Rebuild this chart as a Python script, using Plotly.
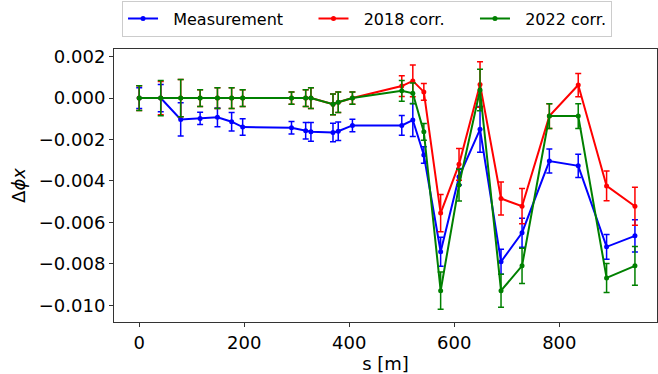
import plotly.graph_objects as go

s = [0, 41, 79, 116, 149, 176, 197, 290, 317, 327, 369, 379, 406, 500, 521, 542,
     574, 609, 649, 689, 729, 781, 836, 890, 944]

meas = [0.0, 0.0, -0.00103, -0.00098, -0.00093, -0.00114, -0.0014, -0.00143, -0.00158,
        -0.00163, -0.00166, -0.0016, -0.00132, -0.00132, -0.00106, -0.00275,
        -0.00742, -0.0038, -0.00151, -0.0079, -0.0065, -0.00304, -0.00327, -0.00718, -0.00665]
meas_err = [0.0005, 0.00066, 0.0008, 0.0003, 0.00045, 0.00045, 0.0004, 0.0003, 0.0004,
            0.00045, 0.00045, 0.00045, 0.0003, 0.00048, 0.0008, 0.0004,
            0.0007, 0.0004, 0.0011, 0.0006, 0.0007, 0.00058, 0.00056, 0.0006, 0.00078]

c2018 = [0.0, 0.0, 0.0, 0.0, 0.0, 0.0, 0.0, 0.0, 0.0, 0.0, -0.0003, -0.0002, 0.0,
         0.00058, 0.00083, 0.0003, -0.00555, -0.0032, 0.00066, -0.00485, -0.00522,
         -0.00087, 0.00063, -0.00424, -0.00522]
c2018_err = [0.0006, 0.0008, 0.0009, 0.0004, 0.0005, 0.0005, 0.0004, 0.0003, 0.0004,
             0.0005, 0.0005, 0.0005, 0.0003, 0.0005, 0.00077, 0.0004, 0.0009, 0.00077,
             0.0011, 0.0008, 0.00085, 0.0006, 0.00056, 0.00072, 0.00092]

c2022 = [0.0, 0.0, 0.0, 0.0, 0.0, 0.0, 0.0, 0.0, 0.0, 0.0, -0.0003, -0.0002, 0.0,
         0.00035, 0.00023, -0.00163, -0.0093, -0.0042, 0.00039, -0.0093, -0.0081,
         -0.00087, -0.00087, -0.00868, -0.0081]
c2022_err = [0.0006, 0.00085, 0.0009, 0.0004, 0.0005, 0.0005, 0.0004, 0.0003, 0.0004,
             0.0005, 0.0005, 0.0005, 0.0003, 0.0005, 0.0005, 0.0004, 0.0009, 0.00077,
             0.001, 0.0008, 0.00085, 0.0006, 0.0006, 0.0007, 0.00093]

yticks = [0.002, 0.0, -0.002, -0.004, -0.006, -0.008, -0.010]
ytick_text = ["0.002", "0.000", "−0.002", "−0.004", "−0.006", "−0.008", "−0.010"]
xticks = [0, 200, 400, 600, 800]

lead = "\u00a0" * 2
trail = "\u00a0" * 5
series = [(lead + "Measurement" + trail, meas, meas_err, "#0000ff"),
          (lead + "2018 corr." + trail, c2018, c2018_err, "#ff0000"),
          (lead + "2022 corr.", c2022, c2022_err, "#008000")]

fig = go.Figure()
for name, y, e, col in series:
    fig.add_trace(go.Scatter(
        x=s, y=y, name=name, mode="lines+markers",
        line=dict(color=col, width=2),
        marker=dict(color=col, size=5),
        error_y=dict(type="data", array=e, visible=True, color=col, thickness=1.5, width=3),
    ))

font = "DejaVu Sans, sans-serif"
fig.update_layout(
    width=658, height=374,
    margin=dict(l=114, r=1, t=49, b=52),
    paper_bgcolor="white", plot_bgcolor="white",
    font=dict(family=font, size=18, color="black"),
    showlegend=True,
    legend=dict(orientation="h", x=0.466, xanchor="center", y=1.045, yanchor="bottom",
                bordercolor="#cccccc", borderwidth=1, font=dict(size=16),
                tracegroupgap=0),
    xaxis=dict(range=[-48, 986], tickvals=xticks, showgrid=False, zeroline=False,
               showline=True, mirror=True, linecolor="#333", linewidth=1,
               ticks="outside", ticklen=4, tickcolor="#333",
               title=dict(text="s [m]", standoff=2, font=dict(size=18))),
    yaxis=dict(range=[-0.01081, 0.00237], tickvals=yticks, ticktext=ytick_text,
               showgrid=False, zeroline=False,
               showline=True, mirror=True, linecolor="#333", linewidth=1,
               ticks="outside", ticklen=4, tickcolor="#333",
               title=dict(text="Δ<i>ϕx</i>", standoff=8, font=dict(size=18))),
)

fig.write_html("out.html")
